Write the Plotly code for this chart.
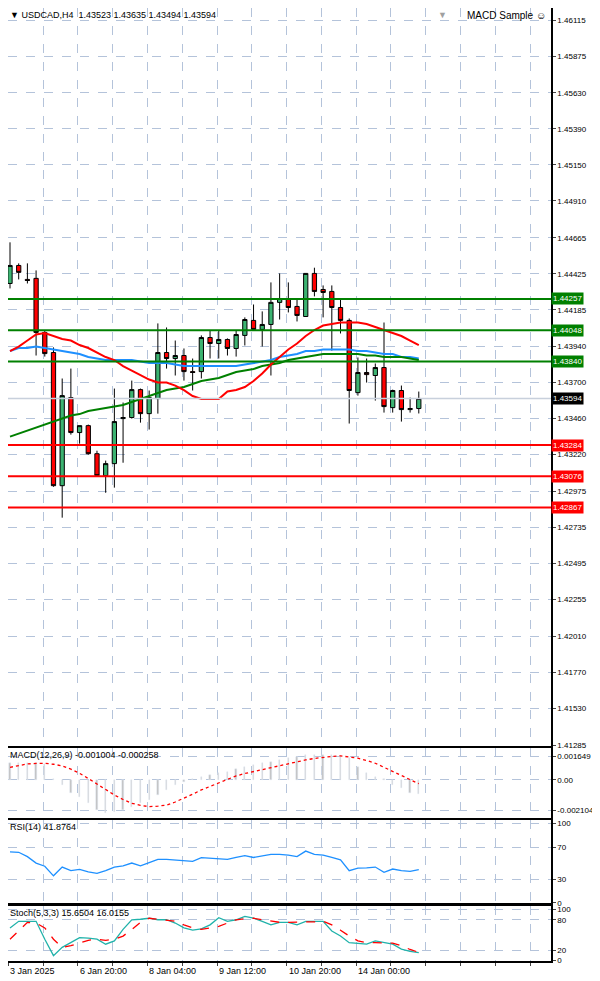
import plotly.graph_objects as go
from plotly.subplots import make_subplots

# USDCAD H4 candles
opens = [1.44360, 1.44480, 1.44387, 1.44394, 1.44034, 1.43900, 1.43013, 1.43600,
         1.43367, 1.43413, 1.43226, 1.43080, 1.43160, 1.43460, 1.43467, 1.43653,
         1.43493, 1.43593, 1.43900, 1.43860, 1.43880, 1.43773, 1.43773, 1.44000,
         1.43960, 1.43987, 1.43927, 1.44014, 1.44114, 1.44054, 1.44087, 1.44234,
         1.44254, 1.44207, 1.44140, 1.44427, 1.44320, 1.44307, 1.44200, 1.44114,
         1.43633, 1.43767, 1.43747, 1.43800, 1.43533, 1.43647, 1.43520, 1.43527]
highs = [1.44634, 1.44494, 1.44494, 1.44447, 1.44047, 1.43934, 1.43727, 1.43793,
         1.43413, 1.43420, 1.43246, 1.43180, 1.43660, 1.43567, 1.43713, 1.43660,
         1.43647, 1.44094, 1.44067, 1.43980, 1.43927, 1.43860, 1.44014, 1.44047,
         1.44047, 1.43994, 1.44047, 1.44134, 1.44220, 1.44174, 1.44367, 1.44427,
         1.44367, 1.44260, 1.44427, 1.44465, 1.44347, 1.44347, 1.44260, 1.44127,
         1.43867, 1.43860, 1.43827, 1.44100, 1.43653, 1.43680, 1.43600, 1.43640]
lows = [1.44327, 1.44387, 1.44360, 1.43880, 1.43873, 1.43006, 1.42800, 1.43353,
        1.43293, 1.43220, 1.43073, 1.42966, 1.43000, 1.43166, 1.43460, 1.43433,
        1.43387, 1.43493, 1.43793, 1.43747, 1.43713, 1.43647, 1.43727, 1.43860,
        1.43860, 1.43880, 1.43873, 1.43947, 1.44047, 1.43940, 1.43747, 1.44120,
        1.44167, 1.44107, 1.44140, 1.44274, 1.44134, 1.43913, 1.44027, 1.43427,
        1.43613, 1.43700, 1.43580, 1.43500, 1.43500, 1.43440, 1.43500, 1.43494]
closes = [1.44480, 1.44434, 1.44380, 1.44034, 1.43893, 1.43013, 1.43613, 1.43367,
          1.43413, 1.43226, 1.43080, 1.43160, 1.43440, 1.43467, 1.43653, 1.43493,
          1.43600, 1.43900, 1.43860, 1.43880, 1.43773, 1.43767, 1.44000, 1.43960,
          1.43987, 1.43927, 1.44020, 1.44120, 1.44054, 1.44087, 1.44234, 1.44260,
          1.44200, 1.44147, 1.44427, 1.44307, 1.44300, 1.44200, 1.44114, 1.43647,
          1.43767, 1.43753, 1.43800, 1.43540, 1.43647, 1.43520, 1.43527, 1.43594]

ma_red = [1.4391, 1.4394, 1.4398, 1.4402, 1.4403, 1.4401, 1.4399, 1.4398, 1.4395, 1.4393,
          1.4390, 1.4387, 1.4385, 1.4381, 1.4378, 1.4375, 1.4372, 1.4370, 1.4370, 1.4368,
          1.4365, 1.4361, 1.4359, 1.4359, 1.4359, 1.4364, 1.4365, 1.4367, 1.4371, 1.4376,
          1.4382, 1.4387, 1.4392, 1.4396, 1.4401, 1.4405, 1.4408, 1.4409, 1.4410, 1.4410,
          1.4410, 1.4409, 1.4407, 1.4405, 1.4403, 1.4401, 1.4398, 1.4395]
ma_blue = [1.4391, 1.4393, 1.4393, 1.4394, 1.4393, 1.4392, 1.4391, 1.4390, 1.4389, 1.4387,
           1.4386, 1.4385, 1.4385, 1.4385, 1.4385, 1.4384, 1.4383, 1.4383, 1.4383, 1.4382,
           1.4381, 1.4381, 1.4381, 1.4381, 1.4381, 1.4381, 1.4381, 1.4382, 1.4383, 1.4384,
           1.4385, 1.4387, 1.4388, 1.4389, 1.4391, 1.4391, 1.4392, 1.4392, 1.4392, 1.4392,
           1.4391, 1.4391, 1.4390, 1.4389, 1.4389, 1.4387, 1.4387, 1.4386]
ma_green = [1.4334, 1.4336, 1.4338, 1.4340, 1.4342, 1.4344, 1.4346, 1.4348, 1.4349, 1.4351,
            1.4352, 1.4353, 1.4354, 1.4355, 1.4357, 1.4359, 1.4361, 1.4363, 1.4365, 1.4366,
            1.4367, 1.4369, 1.4371, 1.4372, 1.4373, 1.4375, 1.4377, 1.4378, 1.4379, 1.4381,
            1.4382, 1.4383, 1.4385, 1.4386, 1.4387, 1.4388, 1.4389, 1.4389, 1.4389, 1.4389,
            1.4389, 1.4388, 1.4388, 1.4387, 1.4387, 1.4387, 1.4386, 1.4385]

green_levels = [1.44257, 1.44048, 1.43840]
red_levels = [1.43284, 1.43076, 1.42867]
last_price = 1.43594

price_ticks = [1.46115, 1.45875, 1.45630, 1.45390, 1.45150, 1.44910, 1.44665, 1.44425,
               1.44185, 1.43940, 1.43700, 1.43460, 1.43220, 1.42975, 1.42735, 1.42495,
               1.42255, 1.42010, 1.41770, 1.41530, 1.41285]

macd_main = [0.00115, 0.00115, 0.00120, 0.00115, 0.00110, 0.00005, -0.00035, -0.00087,
             -0.00115, -0.00161, -0.00207, -0.00230, -0.00219, -0.00207, -0.00184, -0.00161,
             -0.00138, -0.00104, -0.00069, -0.00035, -0.00012, 0.00005, 0.00018, 0.00035,
             0.00046, 0.00058, 0.00074, 0.00092, 0.00104, 0.00115, 0.00127, 0.00138,
             0.00150, 0.00161, 0.00170, 0.00173, 0.00173, 0.00170, 0.00166, 0.00150,
             0.00092, 0.00046, 0.00018, 0.00005, -0.00035, -0.00058, -0.00092, -0.00100]
macd_signal = [0.00087, 0.00100, 0.00110, 0.00114, 0.00115, 0.00108, 0.00097, 0.00074,
               0.00046, 0.00010, -0.00028, -0.00066, -0.00104, -0.00135, -0.00161, -0.00175,
               -0.00184, -0.00181, -0.00173, -0.00152, -0.00127, -0.00098, -0.00069, -0.00044,
               -0.00018, 0.00005, 0.00028, 0.00044, 0.00058, 0.00073, 0.00087, 0.00101,
               0.00115, 0.00127, 0.00138, 0.00148, 0.00156, 0.00162, 0.00166, 0.00160,
               0.00150, 0.00134, 0.00115, 0.00087, 0.00058, 0.00030, 0.00005, -0.00026]

rsi = [64, 63.5, 58, 50, 46, 34, 45, 40.5, 42, 39, 37, 40.5, 45, 46.5, 50, 46.5,
       50.5, 54.6, 54.6, 54, 52.5, 52, 56.7, 56, 55.8, 54.6, 57, 59.2, 57, 58.8, 61, 61,
       60, 58, 65, 61, 60, 57, 54, 40.5, 43.7, 44, 45, 38.4, 42.5, 40.5, 39.6, 41.88]

stoch_k = [64, 77, 77, 77, 41.8, 9.6, 25.7, 35, 45, 44, 42, 32, 38.6, 61, 80, 81,
           83, 80, 80, 73.6, 64, 59.5, 62, 70, 84, 77, 80, 86.7, 83, 77, 70, 75,
           75, 70, 77, 77, 77, 58, 48, 35, 33.5, 32, 38.6, 35, 32, 22.4, 17.9, 15.65]
stoch_d = [41.8, 58, 75, 73.6, 64, 41.8, 25.7, 29, 35, 39.6, 41.8, 39.6, 41.8, 48, 61, 75,
           83, 81, 80, 77, 70, 64, 61, 64, 67, 73.6, 80, 82, 83, 80, 77, 75,
           75, 75, 75, 76, 77, 70, 59.5, 48, 38.6, 35, 35, 35, 34, 29, 21.6, 16.02]

date_idx = [-0.2, 7.8, 15.8, 23.8, 31.8, 39.8]
date_labels = ["3 Jan 2025", "6 Jan 20:00", "8 Jan 04:00", "9 Jan 12:00", "10 Jan 20:00", "14 Jan 00:00"]

x = list(range(len(closes)))
FONT = "Liberation Sans"
GRID = "#b4c3da"

fig = make_subplots(rows=4, cols=1, shared_xaxes=True)

fig.add_trace(go.Candlestick(
    x=x, open=opens, high=highs, low=lows, close=closes,
    increasing=dict(fillcolor="#3cb371", line=dict(color="black", width=1)),
    decreasing=dict(fillcolor="#ff0000", line=dict(color="black", width=1)),
    whiskerwidth=0, showlegend=False), row=1, col=1)

for vals, col in [(ma_blue, "#1e90ff"), (ma_green, "#008000"), (ma_red, "#ff0000")]:
    fig.add_trace(go.Scatter(x=x, y=vals, mode="lines", line=dict(color=col, width=2),
                             showlegend=False, hoverinfo="skip"), row=1, col=1)

fig.add_trace(go.Bar(x=x, y=macd_main, marker_color="#c0c0c0", width=0.15,
                     showlegend=False), row=2, col=1)
fig.add_trace(go.Scatter(x=x, y=macd_signal, mode="lines",
                         line=dict(color="#ff0000", width=1.3, dash="dot"),
                         showlegend=False), row=2, col=1)
fig.add_trace(go.Scatter(x=x, y=rsi, mode="lines", line=dict(color="#1e90ff", width=1.3),
                         showlegend=False), row=3, col=1)
fig.add_trace(go.Scatter(x=x, y=stoch_k, mode="lines", line=dict(color="#20b2aa", width=1.3),
                         showlegend=False), row=4, col=1)
fig.add_trace(go.Scatter(x=x, y=stoch_d, mode="lines",
                         line=dict(color="#ff0000", width=1.3, dash="dash"),
                         showlegend=False), row=4, col=1)

# horizontal levels
fig.add_hline(y=last_price, line=dict(color="#c8d0dc", width=1.5), row=1, col=1)
for lv in green_levels:
    fig.add_hline(y=lv, line=dict(color="#008000", width=2), row=1, col=1)
for lv in red_levels:
    fig.add_hline(y=lv, line=dict(color="#ff0000", width=2), row=1, col=1)

annotations = []
for lv, bg in [(v, "#008000") for v in green_levels] + [(v, "#ff0000") for v in red_levels] + [(last_price, "#000000")]:
    annotations.append(dict(x=1, xref="paper", y=lv, yref="y", xanchor="left", showarrow=False,
                            text="%.5f" % lv, bgcolor=bg, borderpad=1,
                            font=dict(color="white", size=8, family=FONT)))
for xi, t in zip(date_idx, date_labels):
    annotations.append(dict(x=xi, xref="x", y=0, yref="paper", yanchor="top", xanchor="left",
                            yshift=-3, showarrow=False, text=t,
                            font=dict(size=9, family=FONT, color="black")))
annotations += [
    dict(x=0, xref="paper", y=1, yref="paper", xanchor="left", yanchor="top", showarrow=False,
         text="▼ USDCAD,H4  1.43523 1.43635 1.43494 1.43594", font=dict(size=9, family=FONT)),
    dict(x=0.995, xref="paper", y=1, yref="paper", xanchor="right", yanchor="top", showarrow=False,
         text="MACD Sample ☺", font=dict(size=10, family=FONT)),
    dict(x=0.8, xref="paper", y=1.0, yref="paper", xanchor="center", yanchor="top", showarrow=False,
         text="▼", font=dict(size=9, color="#a0a0a0")),
    dict(x=0, xref="paper", y=0.2235, yref="paper", xanchor="left", yanchor="top", showarrow=False,
         text="MACD(12,26,9) -0.001004 -0.000258", font=dict(size=9, family=FONT)),
    dict(x=0, xref="paper", y=0.148, yref="paper", xanchor="left", yanchor="top", showarrow=False,
         text="RSI(14) 41.8764", font=dict(size=9, family=FONT)),
    dict(x=0, xref="paper", y=0.0577, yref="paper", xanchor="left", yanchor="top", showarrow=False,
         text="Stoch(5,3,3) 15.6504 16.0155", font=dict(size=9, family=FONT)),
]

fig.update_layout(
    width=592, height=973, margin=dict(l=0, r=49, t=0, b=20, autoexpand=False),
    paper_bgcolor="white", plot_bgcolor="white",
    font=dict(family=FONT, size=8, color="black"),
    annotations=annotations, bargap=0, hovermode=False,
)

axis_common = dict(showline=True, mirror=True, linecolor="black", linewidth=1.5,
                   showgrid=True, gridcolor=GRID, griddash="dash", zeroline=False,
                   automargin=False)
for i in range(1, 5):
    fig.update_xaxes(range=[-0.23, 62.2], tick0=-0.2, dtick=4, showticklabels=False,
                     rangeslider_visible=False, row=i, col=1, **axis_common)
fig.update_xaxes(ticks="outside", ticklen=3, row=4, col=1)

fig.update_yaxes(domain=[0.2256, 1.0], range=[1.41279, 1.46195], side="right",
                 tickvals=price_ticks, ticktext=["%.5f" % v for v in price_ticks],
                 ticks="outside", ticklen=3, row=1, col=1, **axis_common)
fig.update_yaxes(domain=[0.1501, 0.2235], range=[-0.00262, 0.0022], side="right",
                 tickvals=[0.001649, 0, -0.002104], ticktext=["0.001649", "0.00", "-0.002104"],
                 ticks="outside", ticklen=3, row=2, col=1, **axis_common)
fig.update_yaxes(domain=[0.0609, 0.148], range=[0, 104], side="right",
                 tickvals=[100, 70, 30, 0], ticks="outside", ticklen=3, row=3, col=1, **axis_common)
fig.update_yaxes(domain=[0.0, 0.0577], range=[-1, 107], side="right",
                 tickvals=[100, 80, 20, 0], ticks="outside", ticklen=3, row=4, col=1, **axis_common)

fig.write_html("out.html")
